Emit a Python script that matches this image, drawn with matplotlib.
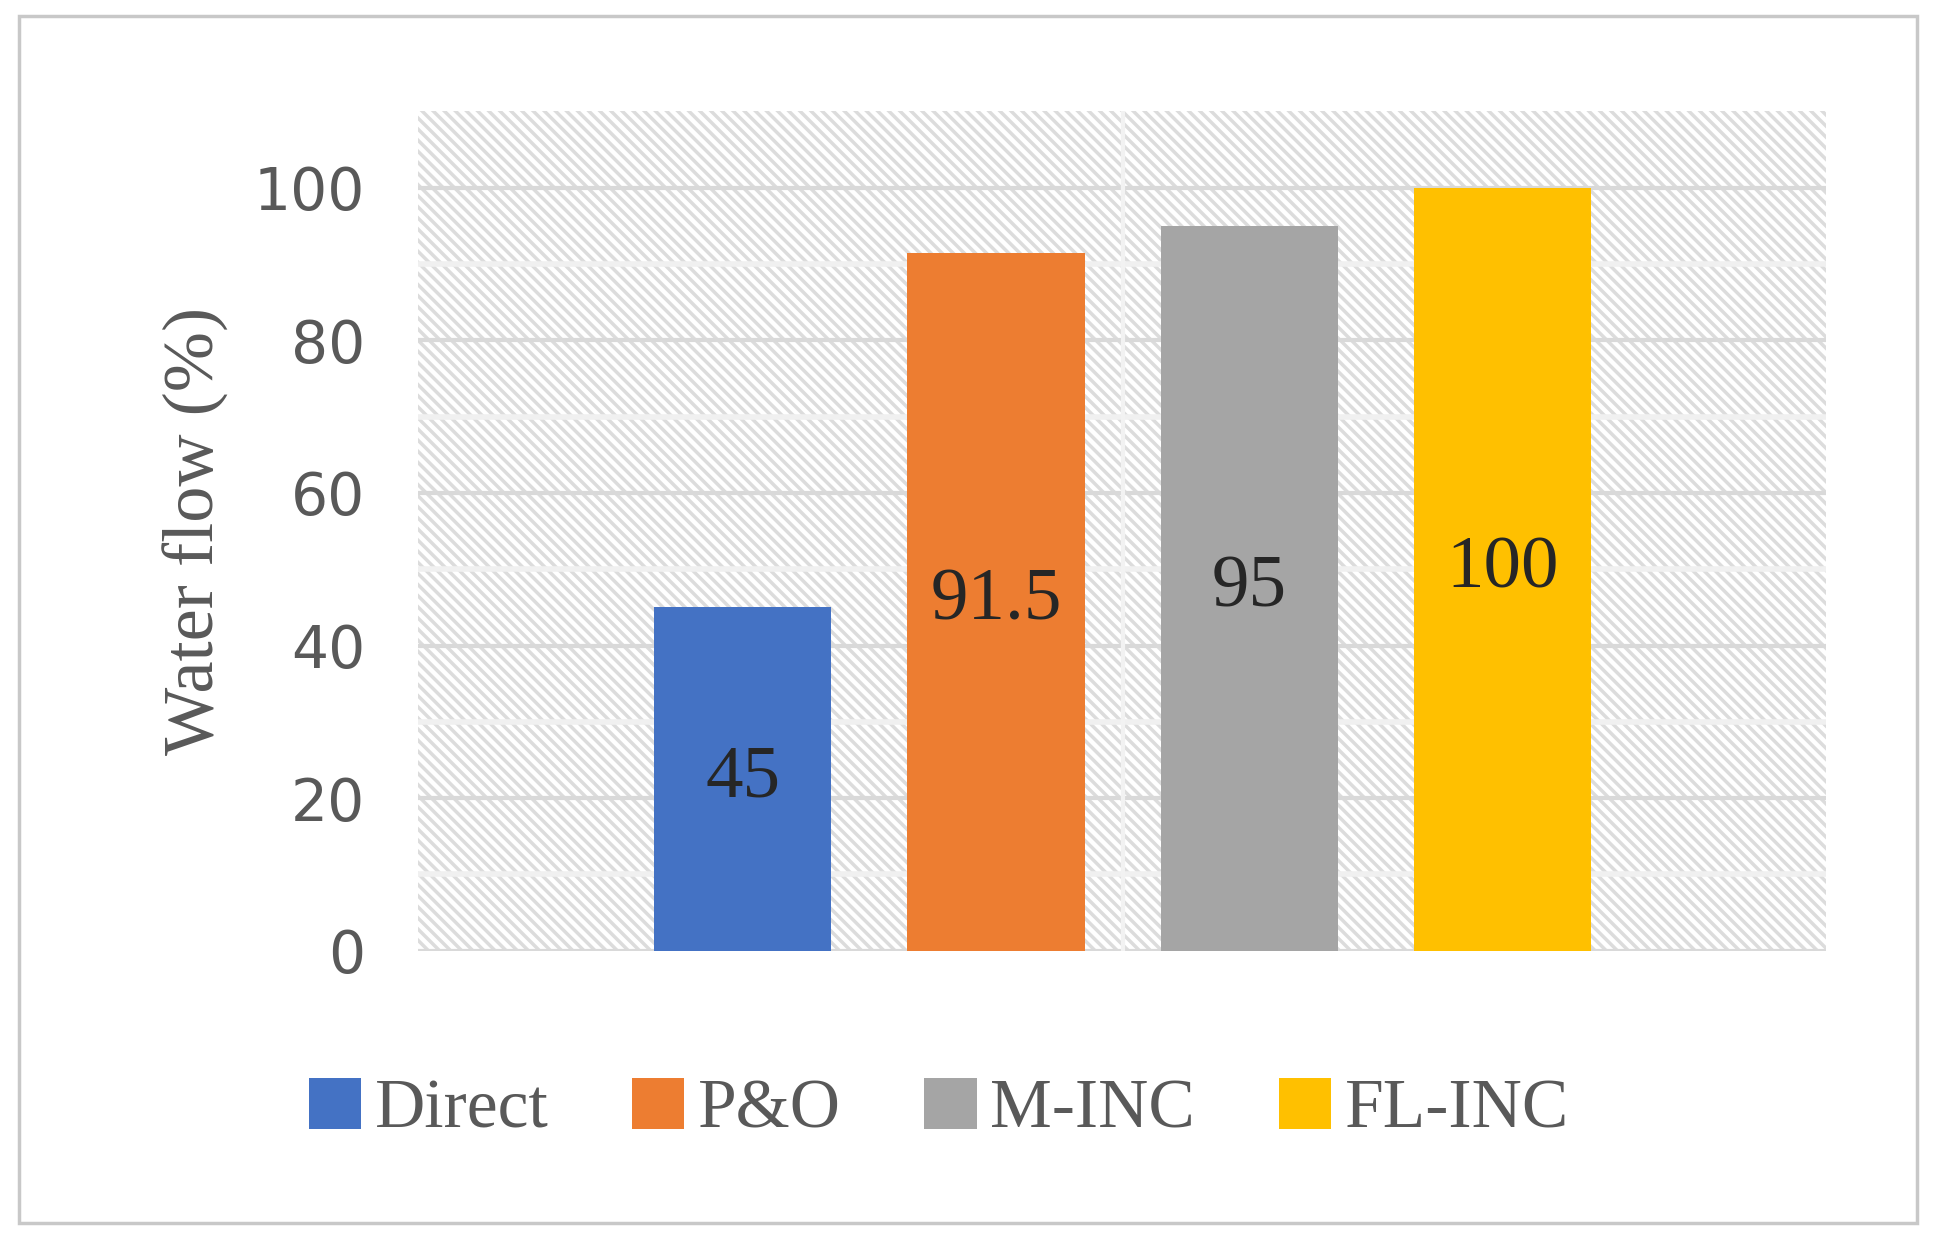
import matplotlib.pyplot as plt
import matplotlib.patches as patches
import matplotlib as mpl

categories = ["Direct", "P&O", "M-INC", "FL-INC"]
values = [45, 91.5, 95, 100]
value_labels = ["45", "91.5", "95", "100"]
colors = ["#4472C4", "#ED7D31", "#A5A5A5", "#FFC000"]
yticks = [0, 20, 40, 60, 80, 100]

mpl.rcParams["hatch.linewidth"] = 2.5

fig = plt.figure(figsize=(19.36, 12.38), dpi=100)
fig.patches.append(patches.Rectangle((0.01, 0.012), 0.98, 0.975, transform=fig.transFigure,
                                     fill=False, edgecolor="#c8c8c8", linewidth=2.5))
ax = fig.add_axes([0.216, 0.232, 0.727, 0.678])
ax.set_xlim(-1.283, 4.278)
ax.set_ylim(0, 110)

# hatched background
ax.add_patch(patches.Rectangle((0, 0), 1, 1, transform=ax.transAxes, facecolor="white",
                               edgecolor="#dcdcdc", linewidth=0, hatch="\\\\\\", zorder=0))
for y in range(10, 110, 10):
    ax.axhline(y, color="#f0f0f0" if y % 20 else "#d9d9d9", lw=3 if y % 20 == 0 else 4, zorder=1)
ax.axhline(0, color="#d9d9d9", lw=3, zorder=1)
ax.axvline(1.5, color="#f2f2f2", lw=3, zorder=1)

x = range(len(categories))
bars = ax.bar(x, values, width=0.7, color=colors, label=categories, zorder=3)
for xi, v, lab in zip(x, values, value_labels):
    ax.text(xi, v / 2, lab, ha="center", va="center", fontsize=54,
            family="Liberation Serif", color="#262626", zorder=4)

for s in ax.spines.values():
    s.set_visible(False)
ax.set_xticks([])
ax.set_yticks(yticks)
ax.tick_params(axis="y", length=0, pad=38, labelsize=42, labelcolor="#595959")
for t in ax.get_yticklabels():
    t.set_family("DejaVu Sans")
ax.set_ylabel("Water flow (%)", fontsize=52, family="Liberation Serif", color="#595959", labelpad=18)

ax.legend(handles=bars, labels=categories, loc="center", bbox_to_anchor=(0.37, -0.19),
          ncol=4, frameon=False, prop={"family": "Liberation Serif", "size": 50},
          labelcolor="#595959", handlelength=0.75, handleheight=0.75, handletextpad=0.2,
          columnspacing=1.2)

fig.savefig("out.png", dpi=100)
